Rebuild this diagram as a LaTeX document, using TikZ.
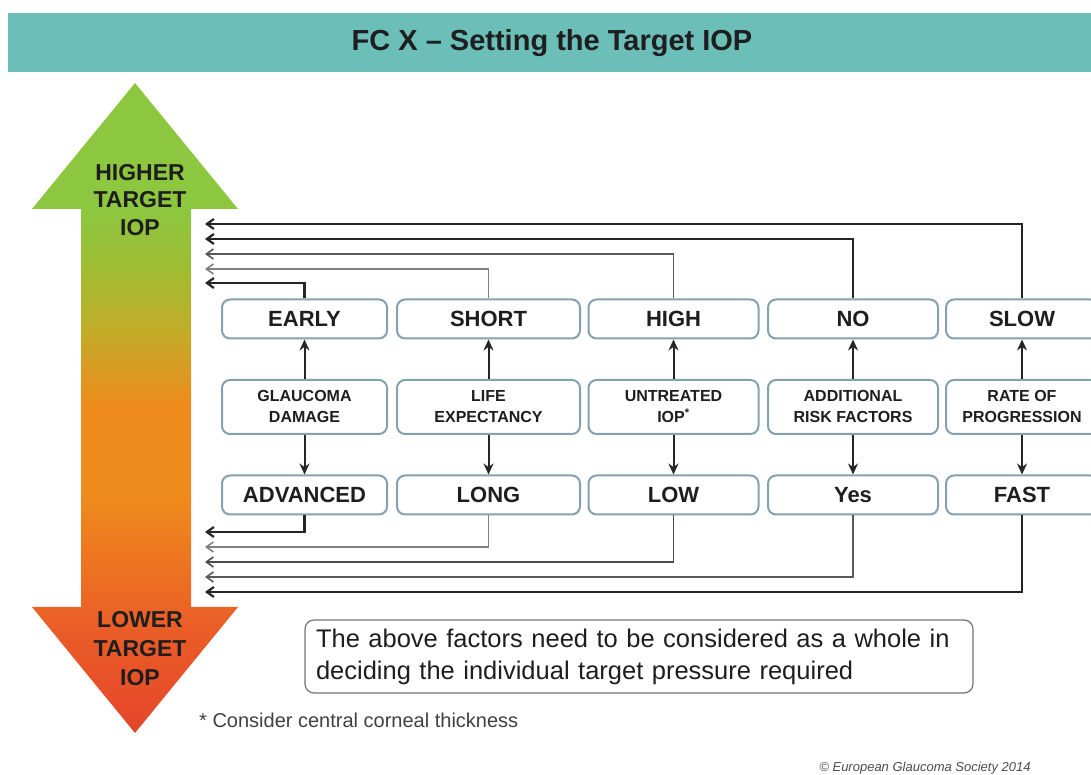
\documentclass[tikz,border=0pt]{standalone}
\usepackage{fontspec}
\setmainfont{Liberation Sans}
\usepackage{xcolor}
\usepackage{tikz}
\usetikzlibrary{arrows.meta}
\definecolor{titleteal}{HTML}{6BBFB8}
\definecolor{boxedge}{HTML}{86A1AE}
\definecolor{inktext}{HTML}{1E1E1E}
\definecolor{arrowgreen}{HTML}{8DC63F}
\definecolor{arrowlime}{HTML}{9EBE34}
\definecolor{arrowolive}{HTML}{C2AC28}
\definecolor{arroworange}{HTML}{EF8A1C}
\definecolor{arrowcoral}{HTML}{EA5D27}
\definecolor{arrowred}{HTML}{E5452A}
\pgfdeclareverticalshading{iopshade}{100bp}{color(0bp)=(arrowred); color(25bp)=(arrowred); color(33bp)=(arrowcoral); color(43bp)=(arroworange); color(50bp)=(arroworange); color(56bp)=(arrowolive); color(61bp)=(arrowlime); color(65bp)=(arrowgreen); color(75bp)=(arrowgreen); color(100bp)=(arrowgreen)}
\tikzstyle{level} = [rectangle, rounded corners=8pt, draw=boxedge, line width=2pt, fill=white, minimum height=39pt, text=inktext, font=\fontsize{22}{24}\selectfont\bfseries]
\tikzstyle{factor} = [level, minimum height=54pt, align=center, font=\fontsize{16}{21}\selectfont\bfseries]
\tikzstyle{arrow} = [line width=2pt, black!85, -{Stealth[length=11pt,width=10pt]}]
\tikzstyle{fbdark} = [line width=2.2pt, black!85, -{Straight Barb[length=7pt,width=10pt]}]
\tikzstyle{fbgray} = [line width=1.6pt, black!50, -{Straight Barb[length=7pt,width=10pt]}]

\begin{document}
\begin{tikzpicture}[x=1pt, y=1pt, node distance=88pt]
				\useasboundingbox (0,0) rectangle (1091,775);
				
				% title bar
				\fill [titleteal] (8,703) rectangle (1100,762);
				\node (title) [text=inktext, font=\fontsize{29}{32}\selectfont\bfseries] at (552,732) {FC X -- Setting the Target IOP};
				
				% the big up/down arrow
				\shade [shading=iopshade] (135,692) -- (238,566) -- (191,566) -- (191,168) -- (238,168) -- (135,42) -- (32,168) -- (81,168) -- (81,566) -- (32,566) -- cycle;
				\node (higher) [text=inktext, align=center, font=\fontsize{23}{27.5}\selectfont\bfseries] at (140,575) {HIGHER\\TARGET\\IOP};
				\node (lower) [text=inktext, align=center, font=\fontsize{23}{29}\selectfont\bfseries] at (140,126) {LOWER\\TARGET\\IOP};
				
				% factor columns
				\node (early) [level, minimum width=165pt] at (304.5,456) {EARLY};
				\node (glaucoma) [factor, minimum width=165pt, below of=early] {GLAUCOMA\\DAMAGE};
				\node (advanced) [level, minimum width=165pt, below of=glaucoma] {ADVANCED};
				
				\node (short) [level, minimum width=183pt] at (488.5,456) {SHORT};
				\node (life) [factor, minimum width=183pt, below of=short] {LIFE\\EXPECTANCY};
				\node (long) [level, minimum width=183pt, below of=life] {LONG};
				
				\node (high) [level, minimum width=170pt] at (673.5,456) {HIGH};
				\node (untreated) [factor, minimum width=170pt, below of=high] {UNTREATED\\IOP\textsuperscript{*}};
				\node (low) [level, minimum width=170pt, below of=untreated] {LOW};
				
				\node (no) [level, minimum width=170pt] at (853,456) {NO};
				\node (risk) [factor, minimum width=170pt, below of=no] {ADDITIONAL\\RISK FACTORS};
				\node (yes) [level, minimum width=170pt, below of=risk] {Yes};
				
				\node (slow) [level, minimum width=152pt] at (1022,456) {SLOW};
				\node (rate) [factor, minimum width=152pt, below of=slow] {RATE OF\\PROGRESSION};
				\node (fast) [level, minimum width=152pt, below of=rate] {FAST};
				
				\draw [arrow] (glaucoma) -- (early);
				\draw [arrow] (glaucoma) -- (advanced);
				\draw [arrow] (life) -- (short);
				\draw [arrow] (life) -- (long);
				\draw [arrow] (untreated) -- (high);
				\draw [arrow] (untreated) -- (low);
				\draw [arrow] (risk) -- (no);
				\draw [arrow] (risk) -- (yes);
				\draw [arrow] (rate) -- (slow);
				\draw [arrow] (rate) -- (fast);
				
				% lines back to the arrow
				\coordinate (hiend1) at (205,492);
				\coordinate (hiend2) at (205,506);
				\coordinate (hiend3) at (205,521);
				\coordinate (hiend4) at (205,536);
				\coordinate (hiend5) at (205,551);
				\coordinate (loend1) at (205,243);
				\coordinate (loend2) at (205,228);
				\coordinate (loend3) at (205,213);
				\coordinate (loend4) at (205,198);
				\coordinate (loend5) at (205,183);
				
				\draw [fbdark] (early.north) |- (hiend1);
				\draw [fbgray] (short.north) |- (hiend2);
				\draw [fbgray, black!65] (high.north) |- (hiend3);
				\draw [fbdark] (no.north) |- (hiend4);
				\draw [fbdark] (slow.north) |- (hiend5);
				\draw [fbdark] (advanced.south) |- (loend1);
				\draw [fbgray] (long.south) |- (loend2);
				\draw [fbgray, black!70] (low.south) |- (loend3);
				\draw [fbgray, black!65] (yes.south) |- (loend4);
				\draw [fbdark] (fast.south) |- (loend5);
				
				% note and footnotes
				\node (note) [rectangle, rounded corners=9pt, draw=black!55, line width=1.2pt, text width=646pt, inner xsep=11pt, minimum height=73pt, align=left, text=inktext, font=\fontsize{25.5}{32}\selectfont] at (639,118.5) {The above factors need to be considered as a whole in\\deciding the individual target pressure required};
				\node (footnote) [anchor=west, inner sep=0pt, text=black!75, font=\fontsize{20}{22}\selectfont] at (199,55) {* Consider central corneal thickness};
				\node (copyright) [text=black!70, font=\fontsize{13}{14}\selectfont\itshape] at (925,7) {\textcopyright{} European Glaucoma Society 2014};
				
\end{tikzpicture}
\end{document}
